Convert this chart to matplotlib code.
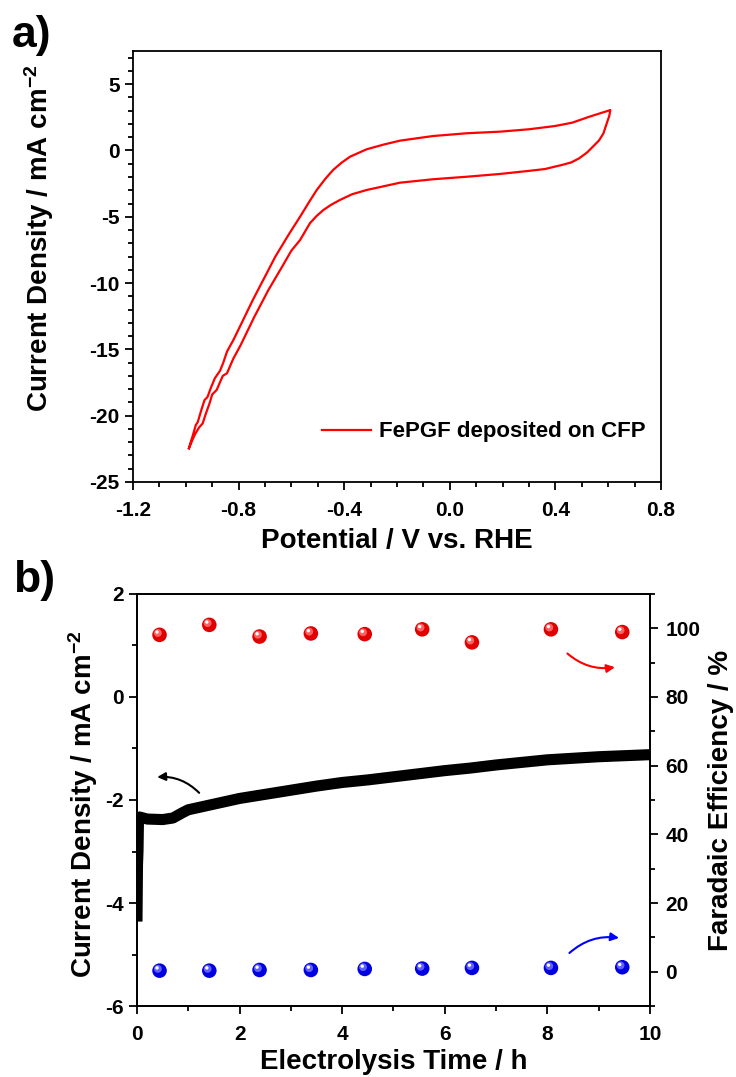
import numpy as np
import matplotlib
matplotlib.use("Agg")
import matplotlib.pyplot as plt
from matplotlib.ticker import MultipleLocator
from matplotlib.transforms import ScaledTranslation

plt.rcParams["font.family"] = ["Liberation Sans", "DejaVu Sans"]
plt.rcParams["font.weight"] = "bold"
plt.rcParams["axes.unicode_minus"] = False
plt.rcParams["mathtext.fontset"] = "custom"
plt.rcParams["mathtext.rm"] = "Liberation Sans:bold"
plt.rcParams["mathtext.bf"] = "Liberation Sans:bold"
plt.rcParams["mathtext.default"] = "bf"

#  (a) cyclic voltammogram 
cv_up_v = [-0.988, -0.980, -0.975, -0.962, -0.955, -0.940, -0.929, -0.918, -0.905,
           -0.890, -0.870, -0.858, -0.844, -0.820, -0.792, -0.746, -0.700, -0.661,
           -0.609, -0.567, -0.535, -0.504, -0.472, -0.442, -0.410, -0.378, -0.315,
           -0.250, -0.189, -0.064, 0.064, 0.190, 0.300, 0.400, 0.464, 0.529, 0.608]
cv_up_j = [-22.46, -21.9, -21.6, -20.70, -20.5, -19.5, -18.82, -18.6, -17.9,
           -17.18, -16.6, -16.0, -15.17, -14.3, -13.16, -11.27, -9.51, -8.01,
           -6.3, -4.99, -3.95, -2.98, -2.15, -1.47, -0.92, -0.47, 0.09,
           0.45, 0.74, 1.09, 1.30, 1.42, 1.60, 1.85, 2.10, 2.55, 3.05]
cv_dn_v = [0.608, 0.604, 0.597, 0.582, 0.565, 0.542, 0.520, 0.490, 0.460, 0.425,
           0.360, 0.294, 0.190, 0.064, -0.064, -0.189, -0.315, -0.370, -0.416,
           -0.450, -0.479, -0.505, -0.530, -0.567, -0.600, -0.635, -0.687, -0.740,
           -0.792, -0.820, -0.844, -0.860, -0.883, -0.900, -0.910, -0.925, -0.936,
           -0.950, -0.965, -0.975, -0.988]
cv_dn_j = [3.05, 2.6, 2.2, 1.29, 0.75, 0.29, -0.15, -0.59, -0.90, -1.09,
           -1.40, -1.55, -1.77, -1.98, -2.17, -2.43, -2.98, -3.30, -3.73,
           -4.10, -4.49, -4.95, -5.49, -6.75, -7.55, -8.76, -10.52, -12.53,
           -14.67, -15.7, -16.80, -17.0, -18.06, -18.4, -19.07, -19.9, -20.58,
           -20.9, -21.4, -21.83, -22.46]

#  (b) chronoamperometry + faradaic efficiency 
ca_t = [0.0, 0.01, 0.02, 0.03, 0.05, 0.2, 0.5, 0.7, 0.9, 1.0, 1.5, 2.0, 2.5, 3.0,
        3.5, 4.0, 4.5, 5.0, 5.5, 6.0, 6.5, 7.0, 7.5, 8.0, 8.5, 9.0, 9.5, 10.0]
ca_j = [-4.36, -3.26, -3.00, -2.35, -2.33, -2.37, -2.38, -2.35, -2.24, -2.19, -2.08,
        -1.97, -1.89, -1.81, -1.73, -1.66, -1.61, -1.55, -1.49, -1.43, -1.38,
        -1.32, -1.27, -1.22, -1.19, -1.16, -1.14, -1.12]

fe_t = [0.44, 1.41, 2.39, 3.39, 4.44, 5.56, 6.53, 8.07, 9.46]
fe_red = [98.1, 101.0, 97.6, 98.5, 98.3, 99.7, 95.9, 99.7, 98.9]
fe_blue = [0.3, 0.3, 0.5, 0.5, 0.8, 0.9, 1.1, 1.1, 1.3]

RED = "#ff0000"
LABEL_FS = 20
TICK_FS = 15


def style_axis(ax, xpad=8):
    for s in ax.spines.values():
        s.set_linewidth(1.3)
    ax.tick_params(which="both", direction="out", width=1.3, labelsize=TICK_FS,
                   top=False, right=False)
    ax.tick_params(which="major", length=6)
    ax.tick_params(which="minor", length=3.5)
    ax.tick_params(axis="x", which="major", pad=xpad)


def balls(ax, x, y, color, light):
    """Shaded sphere markers: base disc plus offset highlights."""
    ax.scatter(x, y, s=110, color=color, edgecolors="none", zorder=4, clip_on=False)
    off = ScaledTranslation(-1.2 / 72, 1.3 / 72, ax.figure.dpi_scale_trans)
    ax.scatter(x, y, s=32, color=light, edgecolors="none", zorder=5,
               transform=ax.transData + off)
    off2 = ScaledTranslation(-1.8 / 72, 2.0 / 72, ax.figure.dpi_scale_trans)
    ax.scatter(x, y, s=6, color="white", edgecolors="none", zorder=6,
               transform=ax.transData + off2)


fig = plt.figure(figsize=(7.36, 10.77), dpi=100)

#  panel a 
ax1 = fig.add_axes([0.1807, 0.5525, 0.7174, 0.4001])
ax1.plot(cv_up_v + cv_dn_v, cv_up_j + cv_dn_j, color=RED, lw=1.6,
         label="FePGF deposited on CFP")
ax1.set_xlim(-1.2, 0.8)
ax1.set_ylim(-25, 7.5)
ax1.xaxis.set_major_locator(MultipleLocator(0.4))
ax1.xaxis.set_minor_locator(MultipleLocator(0.1))
ax1.yaxis.set_major_locator(MultipleLocator(5))
ax1.yaxis.set_minor_locator(MultipleLocator(1))
ax1.xaxis.set_major_formatter(plt.FormatStrFormatter("%.1f"))
style_axis(ax1)
ax1.set_xlabel("Potential / V vs. RHE", fontsize=LABEL_FS, fontweight="bold")
ax1.xaxis.set_label_coords(0.5, -0.108)
ax1.set_ylabel("Current Density / mA cm$^{-2}$", fontsize=LABEL_FS, fontweight="bold")
ax1.yaxis.set_label_coords(-0.145, 0.565)
ax1.legend(loc="center right", bbox_to_anchor=(0.987, 0.116), frameon=False,
           fontsize=16, handlelength=2.2, handletextpad=0.36, borderaxespad=0)

#  panel b 
ax2 = fig.add_axes([0.1861, 0.0659, 0.6970, 0.3826])
ax2.plot(ca_t, ca_j, color="black", lw=8, solid_capstyle="butt", zorder=3)
ax2.set_xlim(0, 10)
ax2.set_ylim(-6, 2)
ax2.xaxis.set_major_locator(MultipleLocator(2))
ax2.xaxis.set_minor_locator(MultipleLocator(1))
ax2.yaxis.set_major_locator(MultipleLocator(2))
ax2.yaxis.set_minor_locator(MultipleLocator(1))
style_axis(ax2)
ax2.set_xlabel("Electrolysis Time / h", fontsize=LABEL_FS, fontweight="bold")
ax2.xaxis.set_label_coords(0.5, -0.105)
ax2.set_ylabel("Current Density / mA cm$^{-2}$", fontsize=LABEL_FS, fontweight="bold")
ax2.yaxis.set_label_coords(-0.072, 0.49)

ax3 = ax2.twinx()
ax3.set_ylim(-10, 110)
ax3.yaxis.set_major_locator(MultipleLocator(20))
ax3.yaxis.set_minor_locator(MultipleLocator(10))
style_axis(ax3)
ax3.tick_params(which="both", right=True, left=False, labelright=True,
                labelleft=False, pad=5)
ax3.set_ylabel("Faradaic Efficiency / %", fontsize=LABEL_FS, fontweight="bold")
ax3.yaxis.set_label_coords(1.113, 0.5)

balls(ax3, fe_t, fe_red, "#e00000", "#ff6060")
balls(ax3, fe_t, fe_blue, "#0000e0", "#6060ff")

# curved arrows pointing at the axes
ax3.annotate("", xy=(0.34, 56.6), xytext=(1.25, 51.5),
             arrowprops=dict(arrowstyle="-|>", color="black", lw=1.5,
                             mutation_scale=12, connectionstyle="arc3,rad=0.25"))
ax3.annotate("", xy=(9.37, 88.8), xytext=(8.35, 93.2),
             arrowprops=dict(arrowstyle="-|>", color=RED, lw=1.5,
                             mutation_scale=12, connectionstyle="arc3,rad=0.25"))
ax3.annotate("", xy=(9.45, 9.7), xytext=(8.39, 4.9),
             arrowprops=dict(arrowstyle="-|>", color="#0000ff", lw=1.5,
                             mutation_scale=12, connectionstyle="arc3,rad=-0.25"))

fig.text(0.016, 0.986, "a)", fontsize=32, fontweight="bold", va="top")
fig.text(0.018, 0.480, "b)", fontsize=32, fontweight="bold", va="top")

fig.savefig("out.png", dpi=100)
